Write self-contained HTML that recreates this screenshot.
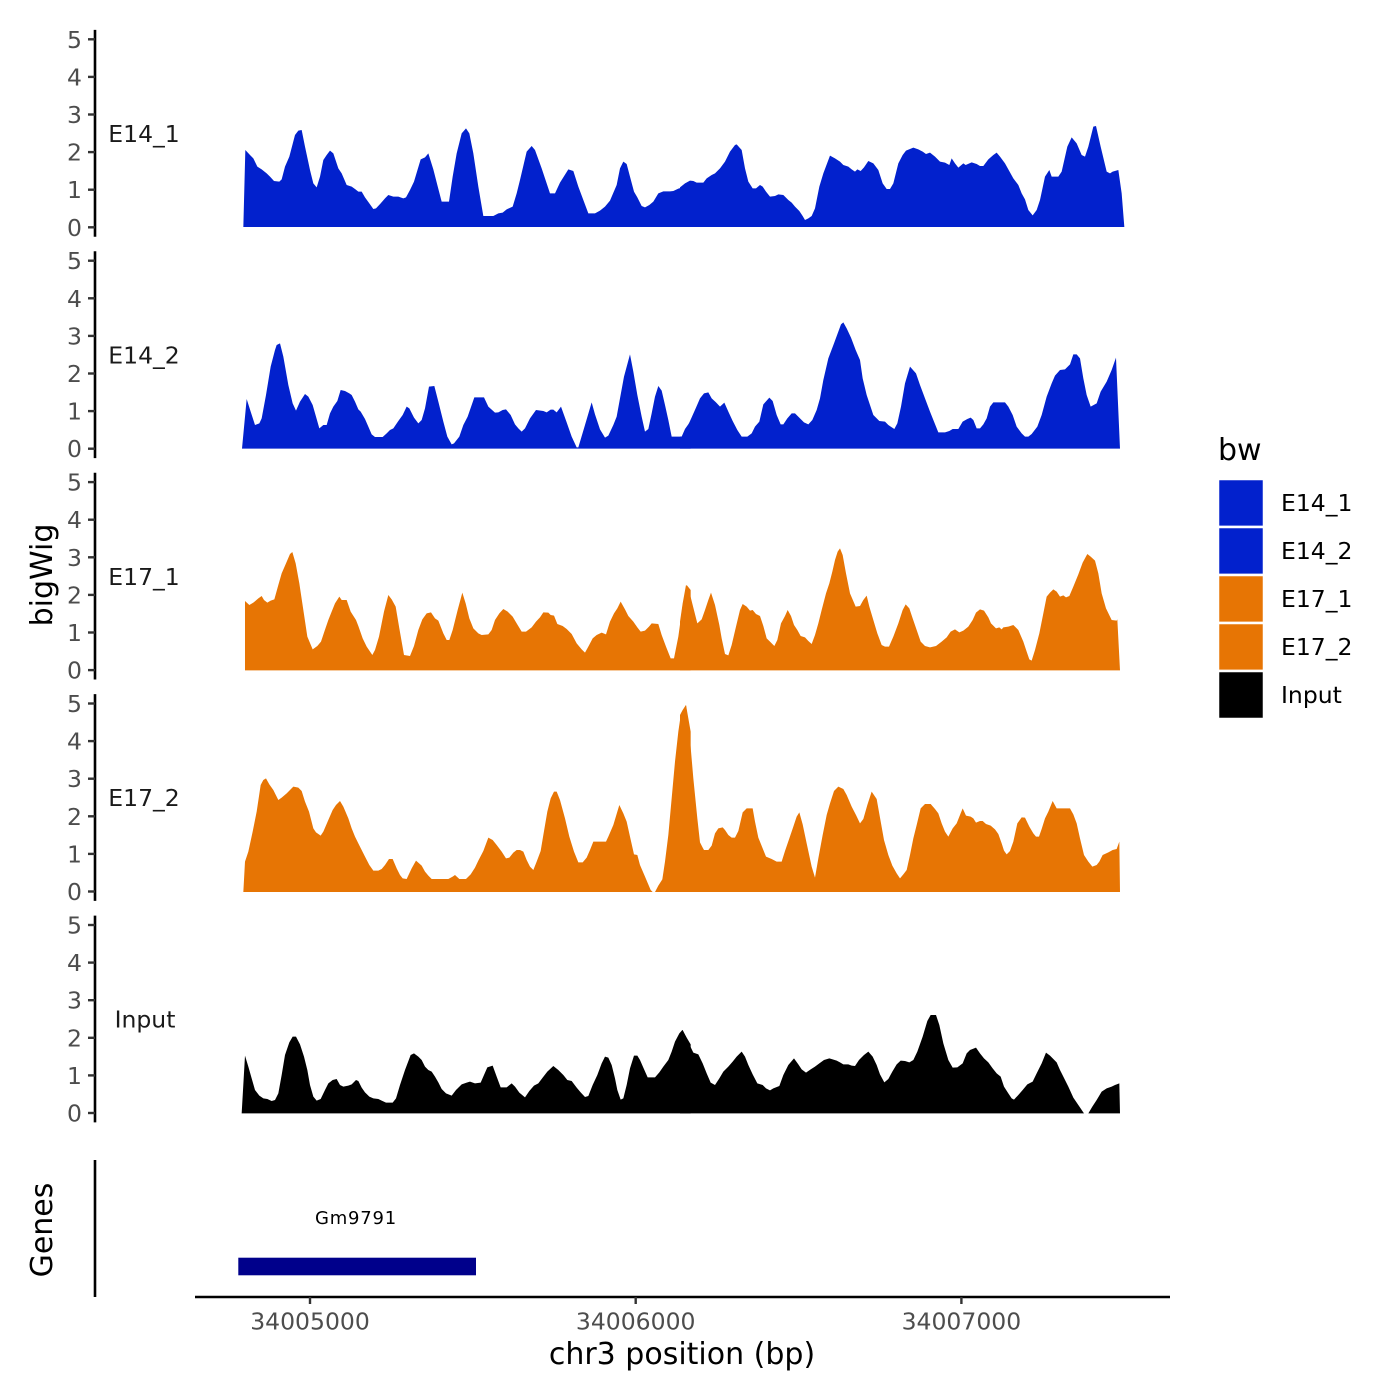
<!DOCTYPE html>
<html><head><meta charset="utf-8"><style>
html,body{margin:0;padding:0;background:#fff;}
svg{display:block;}
text{font-family:"DejaVu Sans","Liberation Sans",sans-serif;}
</style></head><body>
<svg width="1400" height="1400" viewBox="0 0 1400 1400" xmlns="http://www.w3.org/2000/svg">
<rect width="1400" height="1400" fill="#fff"/>

<!-- Track 1 E14_1 -->
<g fill="#0221CD">
<g transform="translate(230,110) scale(0.33333)">
<polygon points="40,351 46,120 60,135 70,145 82,170 95,178 110,190 120,200 132,213 148,215 155,208 165,170 178,140 195,75 205,62 215,60 225,110 240,180 250,220 260,232 270,200 280,150 290,135 300,122 310,130 325,175 335,190 350,225 365,230 375,237 385,245 395,245 405,262 418,280 430,297 438,295 452,280 465,265 475,255 490,260 505,260 520,265 528,262 540,240 552,215 572,148 585,142 595,130 610,178 622,225 635,275 657,275 668,200 680,130 695,70 708,55 718,70 730,130 745,230 760,318 790,318 805,310 818,308 830,298 848,290 860,250 870,210 890,125 905,108 915,120 935,175 945,205 960,250 975,250 990,218 1015,178 1030,183 1045,230 1060,270 1075,310 1095,310 1110,302 1125,290 1140,272 1160,225 1170,175 1180,155 1190,162 1200,200 1212,245 1222,262 1235,288 1245,292 1258,285 1270,275 1285,250 1300,244 1320,244 1330,243 1345,236 1355,233 1370,220 1382,213 1382,351"/>
</g>
<g transform="translate(680,110) scale(0.33333)">
<polygon points="0,351 0,232 15,220 30,212 40,213 50,218 70,218 80,205 95,195 105,190 120,175 135,155 150,125 165,105 170,103 185,120 195,175 205,215 218,235 228,235 240,225 248,230 258,245 270,260 285,258 295,253 310,255 325,270 335,278 345,290 358,303 368,318 375,330 385,325 395,318 405,295 418,230 430,190 450,137 465,145 480,155 490,165 505,170 515,178 525,185 532,178 542,183 552,172 565,153 580,160 595,180 608,220 620,237 630,237 640,220 655,160 668,135 678,122 700,113 715,118 728,125 738,132 750,128 765,140 780,155 795,158 808,165 815,145 825,160 835,173 850,160 857,165 875,157 890,162 900,168 910,168 925,148 940,135 950,128 960,140 975,160 985,178 1000,205 1015,225 1025,250 1035,268 1045,300 1058,316 1070,300 1080,270 1095,200 1108,180 1115,200 1135,200 1145,185 1162,110 1175,82 1190,100 1205,135 1215,140 1225,110 1240,50 1248,48 1262,110 1280,185 1290,190 1298,185 1315,180 1325,250 1333,351"/>
</g>
</g>

<!-- Track 2 E14_2 -->
<g fill="#0221CD">
<g transform="translate(230,315) scale(0.33333)">
<polygon points="36,401 50,252 62,290 75,330 88,325 95,310 108,240 122,155 135,105 140,90 150,85 160,125 175,210 188,265 198,287 210,260 225,237 235,245 248,270 258,305 268,340 280,330 290,330 300,295 310,275 322,258 332,225 345,228 358,235 365,240 375,260 385,283 392,290 405,312 415,335 425,358 435,366 458,366 470,355 480,345 490,340 505,318 518,300 530,275 538,280 552,308 565,325 575,315 585,280 597,215 613,213 625,260 640,320 652,365 665,388 672,385 688,365 700,330 713,305 733,247 762,247 775,275 795,293 805,292 818,285 828,283 842,300 855,328 865,340 875,350 885,340 900,310 918,285 940,288 950,292 962,284 970,284 980,292 993,275 1010,322 1025,365 1040,397 1045,397 1065,330 1085,262 1095,298 1110,343 1125,368 1135,362 1150,330 1160,305 1170,250 1182,185 1200,118 1210,170 1222,240 1235,305 1245,350 1255,342 1265,295 1275,245 1285,213 1295,227 1305,270 1315,315 1325,365 1355,365 1365,342 1382,318 1382,401"/>
</g>
<g transform="translate(680,315) scale(0.33333)">
<polygon points="0,401 0,365 8,365 20,340 35,307 48,278 60,250 72,235 85,232 95,250 108,262 120,275 133,263 145,290 158,318 172,345 185,365 202,365 215,355 225,335 238,320 250,268 268,248 278,258 290,300 302,328 310,328 322,310 335,295 345,295 360,310 372,322 385,328 397,315 410,285 420,250 430,195 445,130 462,85 475,50 483,28 490,22 500,40 513,68 527,105 540,135 548,190 560,240 570,270 580,300 598,318 615,320 625,330 643,342 652,325 663,275 675,205 690,155 708,175 720,210 735,250 750,290 762,320 775,352 795,352 808,348 818,342 835,342 848,320 862,312 872,308 880,315 890,340 900,340 910,328 920,310 930,275 940,262 975,262 985,275 998,300 1010,335 1025,355 1035,365 1045,365 1055,357 1072,335 1085,300 1100,245 1115,205 1125,182 1140,165 1155,163 1170,148 1180,118 1190,118 1200,130 1210,190 1220,240 1232,275 1250,265 1262,230 1280,200 1295,165 1308,128 1320,401"/>
</g>
</g>

<!-- Track 3 E17_1 -->
<g fill="#E77504">
<g transform="translate(230,540) scale(0.33333)">
<polygon points="45,391 45,183 58,195 70,188 85,175 95,168 102,180 112,188 122,182 133,178 145,135 155,100 168,70 180,42 187,36 197,70 208,130 220,210 232,290 248,328 262,318 273,305 283,275 295,240 305,215 315,190 328,170 335,180 350,180 362,215 378,240 385,258 398,295 410,320 427,345 435,330 447,290 462,215 475,165 485,178 497,200 508,265 522,345 540,348 552,318 565,270 577,238 590,220 603,217 615,235 625,242 640,280 650,300 658,300 668,270 683,210 697,158 707,190 718,235 730,265 745,280 755,285 775,283 785,270 795,240 808,220 820,207 833,215 848,230 860,250 875,275 888,275 905,262 918,245 930,232 940,217 955,218 962,225 972,227 982,252 998,258 1010,267 1025,282 1040,310 1055,328 1065,338 1075,320 1088,295 1100,285 1115,278 1128,283 1140,245 1152,220 1162,205 1172,185 1185,208 1195,228 1210,245 1222,262 1232,275 1245,272 1257,260 1265,250 1285,252 1295,285 1308,320 1322,355 1332,355 1345,290 1358,195 1370,135 1382,150 1382,391"/>
</g>
<g transform="translate(680,540) scale(0.33333)">
<polygon points="0,391 0,245 8,190 18,135 28,155 38,195 52,250 65,238 75,210 85,180 93,158 105,195 118,255 125,295 135,342 145,346 155,315 168,260 180,210 188,192 200,200 210,212 218,210 228,222 240,228 250,258 260,295 270,305 283,318 292,300 303,250 315,228 323,210 333,228 342,255 352,270 362,288 375,292 385,303 395,312 405,285 415,250 425,210 438,160 448,130 457,95 465,60 473,35 480,25 488,45 498,100 510,160 527,200 540,198 550,180 560,167 568,200 580,240 592,280 605,315 615,320 627,320 640,290 655,250 668,210 677,193 688,205 698,235 710,270 722,305 735,318 750,322 768,318 785,305 800,292 812,275 825,268 838,277 850,272 865,260 878,240 888,218 900,208 912,212 925,232 933,250 948,265 958,262 965,268 970,262 985,260 1000,255 1015,270 1030,305 1040,335 1048,358 1055,362 1065,330 1078,280 1090,220 1100,170 1110,158 1120,148 1130,155 1140,170 1150,166 1158,172 1168,168 1180,140 1195,103 1208,68 1222,42 1232,50 1245,62 1255,100 1265,160 1278,205 1295,240 1310,242 1312,238 1320,391"/>
</g>
</g>

<!-- Track 4 E17_2 -->
<g fill="#E77504">
<g transform="translate(230,695) scale(0.33333)">
<polygon points="40,591 45,500 55,470 68,410 80,350 92,270 100,255 108,250 118,268 130,285 135,295 145,315 155,308 170,295 180,285 190,275 205,278 215,288 225,320 237,350 250,400 258,412 272,422 280,410 295,375 308,345 318,330 330,318 340,335 355,370 365,400 375,425 385,445 395,465 405,485 418,510 430,527 445,527 455,522 465,510 477,492 488,492 500,520 510,540 518,550 530,552 545,520 558,497 575,512 585,530 595,542 605,552 655,552 668,545 675,540 688,552 708,552 722,538 735,518 745,497 760,468 775,428 788,435 800,450 815,470 828,490 838,488 850,473 860,465 870,465 880,470 890,495 900,515 910,525 920,500 932,468 940,420 952,350 962,310 972,290 980,290 990,315 1005,370 1018,425 1032,470 1045,502 1058,502 1070,488 1080,465 1090,440 1128,440 1135,425 1150,390 1168,330 1180,355 1190,380 1200,425 1212,478 1222,480 1230,510 1245,545 1262,585 1268,591 1275,591 1285,572 1297,553 1305,500 1315,420 1325,310 1335,200 1345,110 1353,55 1360,43 1368,30 1382,110 1382,591"/>
</g>
<g transform="translate(680,695) scale(0.33333)">
<polygon points="0,591 0,60 8,45 18,30 28,110 40,250 52,370 60,442 68,458 72,465 85,465 95,452 105,415 115,400 128,397 135,405 145,420 155,428 165,428 175,408 188,352 200,340 218,340 225,380 235,428 248,460 258,485 275,492 290,500 305,500 315,468 328,430 340,395 350,365 358,352 368,388 380,445 395,515 405,548 415,490 428,420 440,360 450,325 462,288 475,275 490,282 500,300 515,335 528,360 540,385 550,372 562,330 575,290 590,312 600,368 612,435 625,480 637,512 650,535 660,550 670,538 680,525 690,480 700,430 710,390 722,340 735,327 752,327 765,342 775,355 785,385 795,410 805,425 818,400 830,385 840,360 848,340 858,362 872,365 880,370 888,383 900,378 908,378 918,387 932,392 945,403 955,417 965,445 972,467 980,478 990,468 1000,440 1012,385 1025,367 1035,368 1048,395 1060,415 1068,425 1077,425 1085,402 1095,370 1105,350 1118,318 1130,340 1170,340 1180,358 1190,385 1200,430 1212,480 1225,500 1237,515 1250,510 1258,500 1268,480 1285,472 1298,465 1310,462 1318,440 1320,591"/>
</g>
</g>

<!-- Track 5 Input -->
<g fill="#000">
<g transform="translate(230,1005) scale(0.33333)">
<polygon points="35,325 45,152 55,185 65,220 75,255 88,272 100,280 112,282 125,288 135,285 145,265 155,210 165,150 178,112 188,95 198,95 210,118 222,155 232,195 240,240 250,275 260,287 272,282 285,255 295,235 308,225 320,222 330,240 340,245 355,242 365,238 378,225 385,228 395,248 405,262 418,275 430,280 445,282 455,287 468,293 488,293 498,280 510,240 525,195 542,150 552,145 565,155 575,165 585,185 595,195 605,200 615,215 625,232 635,252 648,265 665,272 678,255 695,238 710,233 720,230 735,235 752,233 762,210 772,187 788,182 800,215 812,247 830,247 845,235 855,245 868,263 885,277 898,258 912,242 925,235 938,218 952,200 970,183 985,195 1000,210 1012,225 1025,228 1040,248 1052,262 1065,276 1075,273 1088,240 1102,210 1115,175 1125,155 1135,158 1145,180 1155,220 1162,255 1172,284 1180,280 1190,240 1200,190 1212,152 1222,152 1230,165 1240,188 1253,217 1275,217 1288,202 1300,185 1315,165 1325,140 1335,110 1348,85 1357,75 1370,98 1382,118 1382,325"/>
</g>
<g transform="translate(680,1005) scale(0.33333)">
<polygon points="0,325 0,85 8,75 18,95 28,118 40,143 55,148 68,175 80,205 92,233 105,240 118,220 130,200 145,185 158,170 170,155 185,140 195,155 205,180 218,208 232,235 248,240 258,250 270,256 280,250 298,243 310,210 325,180 342,160 355,178 365,193 378,203 392,193 405,185 418,175 432,165 448,160 458,163 470,167 480,172 490,178 505,178 515,182 525,183 537,165 552,150 565,140 578,155 590,180 600,208 613,232 625,222 637,200 650,178 662,167 675,168 688,172 700,165 712,140 728,95 742,48 752,30 768,30 778,60 790,115 805,165 818,188 832,187 848,175 860,145 870,135 888,128 900,145 912,160 925,172 938,190 950,205 962,215 972,245 985,265 995,280 1002,284 1015,270 1028,255 1042,238 1058,230 1070,205 1085,175 1098,143 1110,152 1130,172 1140,195 1150,215 1165,245 1180,278 1195,300 1212,325 1225,325 1237,305 1250,285 1265,260 1280,250 1295,245 1305,240 1318,235 1320,325"/>
</g>
</g>

<!-- Y axes -->
<g stroke="#000" stroke-width="2.6" fill="none">
<line x1="95" y1="29.9" x2="95" y2="236.7"/>
<line x1="95" y1="251.3" x2="95" y2="458.1"/>
<line x1="95" y1="472.7" x2="95" y2="679.5"/>
<line x1="95" y1="694.1" x2="95" y2="900.9"/>
<line x1="95" y1="915.6" x2="95" y2="1122.4"/>
<line x1="95" y1="1160" x2="95" y2="1297"/>
<line x1="195" y1="1297" x2="1170" y2="1297"/>
</g>
<g stroke="#333" stroke-width="2.4">
<line x1="88" y1="227.3" x2="95" y2="227.3"/><line x1="88" y1="189.7" x2="95" y2="189.7"/><line x1="88" y1="152.1" x2="95" y2="152.1"/><line x1="88" y1="114.5" x2="95" y2="114.5"/><line x1="88" y1="76.9" x2="95" y2="76.9"/><line x1="88" y1="39.3" x2="95" y2="39.3"/>
<line x1="88" y1="448.7" x2="95" y2="448.7"/><line x1="88" y1="411.1" x2="95" y2="411.1"/><line x1="88" y1="373.5" x2="95" y2="373.5"/><line x1="88" y1="335.9" x2="95" y2="335.9"/><line x1="88" y1="298.3" x2="95" y2="298.3"/><line x1="88" y1="260.7" x2="95" y2="260.7"/>
<line x1="88" y1="670.1" x2="95" y2="670.1"/><line x1="88" y1="632.5" x2="95" y2="632.5"/><line x1="88" y1="594.9" x2="95" y2="594.9"/><line x1="88" y1="557.3" x2="95" y2="557.3"/><line x1="88" y1="519.7" x2="95" y2="519.7"/><line x1="88" y1="482.1" x2="95" y2="482.1"/>
<line x1="88" y1="891.5" x2="95" y2="891.5"/><line x1="88" y1="853.9" x2="95" y2="853.9"/><line x1="88" y1="816.3" x2="95" y2="816.3"/><line x1="88" y1="778.7" x2="95" y2="778.7"/><line x1="88" y1="741.1" x2="95" y2="741.1"/><line x1="88" y1="703.5" x2="95" y2="703.5"/>
<line x1="88" y1="1113" x2="95" y2="1113"/><line x1="88" y1="1075.4" x2="95" y2="1075.4"/><line x1="88" y1="1037.8" x2="95" y2="1037.8"/><line x1="88" y1="1000.2" x2="95" y2="1000.2"/><line x1="88" y1="962.6" x2="95" y2="962.6"/><line x1="88" y1="925" x2="95" y2="925"/>
<line x1="310" y1="1297" x2="310" y2="1304"/><line x1="635.7" y1="1297" x2="635.7" y2="1304"/><line x1="961.4" y1="1297" x2="961.4" y2="1304"/>
</g>

<g fill="#4D4D4D" font-size="23.5" text-anchor="end">
<text x="82" y="235.8">0</text><text x="82" y="198.2">1</text><text x="82" y="160.6">2</text><text x="82" y="123">3</text><text x="82" y="85.4">4</text><text x="82" y="47.8">5</text>
<text x="82" y="457.2">0</text><text x="82" y="419.6">1</text><text x="82" y="382">2</text><text x="82" y="344.4">3</text><text x="82" y="306.8">4</text><text x="82" y="269.2">5</text>
<text x="82" y="678.6">0</text><text x="82" y="641">1</text><text x="82" y="603.4">2</text><text x="82" y="565.8">3</text><text x="82" y="528.2">4</text><text x="82" y="490.6">5</text>
<text x="82" y="900">0</text><text x="82" y="862.4">1</text><text x="82" y="824.8">2</text><text x="82" y="787.2">3</text><text x="82" y="749.6">4</text><text x="82" y="712">5</text>
<text x="82" y="1121.5">0</text><text x="82" y="1083.9">1</text><text x="82" y="1046.3">2</text><text x="82" y="1008.7">3</text><text x="82" y="971.1">4</text><text x="82" y="933.5">5</text>
</g>
<g fill="#4D4D4D" font-size="23.5" text-anchor="middle">
<text x="310" y="1329.5">34005000</text>
<text x="635.7" y="1329.5">34006000</text>
<text x="961.4" y="1329.5">34007000</text>
</g>

<!-- strip labels -->
<g fill="#1A1A1A" font-size="23.5" text-anchor="middle">
<text x="144" y="142">E14_1</text>
<text x="144" y="363.4">E14_2</text>
<text x="144" y="584.8">E17_1</text>
<text x="144" y="806.2">E17_2</text>
<text x="145" y="1027.6">Input</text>
</g>

<!-- gene -->
<rect x="238.3" y="1257.7" width="237.7" height="17.6" fill="#00008B"/>
<text x="356" y="1224" font-size="18" text-anchor="middle" fill="#000" letter-spacing="0.8">Gm9791</text>

<!-- axis titles -->
<text x="682" y="1364" font-size="30" text-anchor="middle" fill="#000">chr3 position (bp)</text>
<text transform="translate(52,575) rotate(-90)" font-size="30" text-anchor="middle" fill="#000">bigWig</text>
<text transform="translate(52,1230) rotate(-90)" font-size="30" text-anchor="middle" fill="#000">Genes</text>

<!-- legend -->
<text x="1218" y="460" font-size="30" fill="#000">bw</text>
<g stroke="#fff" stroke-width="2.5">
<rect x="1218" y="479" width="46" height="48" fill="#0221CD"/>
<rect x="1218" y="527" width="46" height="48" fill="#0221CD"/>
<rect x="1218" y="575" width="46" height="48" fill="#E77504"/>
<rect x="1218" y="623" width="46" height="48" fill="#E77504"/>
<rect x="1218" y="671" width="46" height="48" fill="#000"/>
</g>
<g fill="#000" font-size="23.5">
<text x="1281" y="511">E14_1</text>
<text x="1281" y="559">E14_2</text>
<text x="1281" y="607">E17_1</text>
<text x="1281" y="655">E17_2</text>
<text x="1281" y="703">Input</text>
</g>
</svg>
</body></html>
